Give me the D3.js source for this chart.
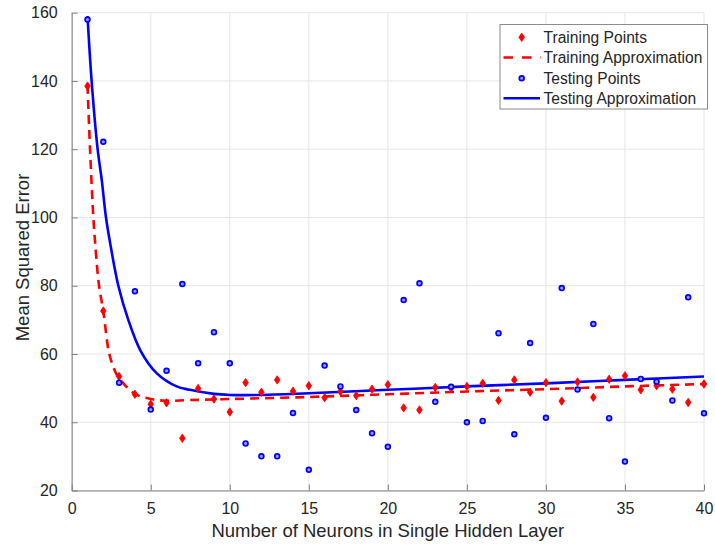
<!DOCTYPE html>
<html>
<head>
<meta charset="utf-8">
<script src="https://cdn.jsdelivr.net/npm/d3@7"></script>
<style>
  body { margin: 0; background: #fff; }
  text { font-family: "Liberation Sans", Arial, sans-serif; fill: #262626; }
</style>
</head>
<body>
<svg id="chart" width="715" height="546"></svg>
<script>
// neurons 1..40
const neurons = d3.range(1, 41)

const trainPoints = [138.5, 72.6, 53.4, 48.2, 45.3, 45.7, 35.3, 49.9, 46.8, 43.0,
  51.6, 48.8, 52.4, 49.1, 50.7, 47.2, 49.0, 47.8, 49.7, 51.0,
  44.2, 43.6, 50.2, 50.0, 50.5, 51.4, 46.4, 52.4, 48.8, 51.6,
  46.2, 51.8, 47.3, 52.6, 53.6, 49.5, 50.7, 49.7, 45.8, 51.2]

const testPoints = [158.0, 122.2, 51.6, 78.4, 43.7, 55.1, 80.5, 57.3, 66.4, 57.3,
  33.8, 30.0, 30.0, 42.7, 26.1, 56.6, 50.5, 43.6, 36.8, 32.8,
  75.8, 80.7, 46.0, 50.4, 40.0, 40.4, 66.1, 36.5, 63.2, 41.3,
  79.3, 49.6, 68.8, 41.2, 28.5, 52.7, 51.9, 46.4, 76.6, 42.6]

// fitted curves
const trainFitX = [1, 1.16, 1.37, 1.5, 1.73, 2, 2.38, 2.8, 3.27, 4, 5, 6, 7.5, 10, 15, 20, 25, 30, 35, 40]
const trainFitY = [138.8, 120, 100, 91.5, 80, 72.6, 60, 54.4, 51.4, 48.3, 46.8, 46.3, 46.5, 46.8, 47.4, 48.2, 49.0, 49.7, 50.5, 51.2]
const testFitX = [1, 1.26, 1.64, 1.9, 2.17, 2.47, 2.95, 3.58, 4.35, 5.37, 6.64, 7.48, 9, 10, 12, 15, 20, 25, 30, 35, 40]
const testFitY = [159, 140, 120, 111, 100, 91.5, 80, 70, 61, 54.4, 50.5, 49.5, 48.3, 48.0, 48.0, 48.5, 49.5, 50.5, 51.4, 52.4, 53.4]

const xTicks = [0, 5, 10, 15, 20, 25, 30, 35, 40]
const yTicks = [20, 40, 60, 80, 100, 120, 140, 160]

const legendLabels = ["Training Points", "Training Approximation", "Testing Points", "Testing Approximation"]

const RED = "#ff0000"
const BLUE = "#0000ff"

const MARGINS = { left: 71.7, right: 704, top: 12.7, bottom: 490.5 }

const svg = d3.select("#chart")

const xScale = d3.scaleLinear().domain([0, 40]).range([MARGINS.left, MARGINS.right])
const yScale = d3.scaleLinear().domain([20, 160]).range([MARGINS.bottom, MARGINS.top])

// grid
const grid = svg.append("g")
grid.selectAll(".gx").data(xTicks).enter().append("line")
  .attr("x1", d => xScale(d)).attr("x2", d => xScale(d))
  .attr("y1", MARGINS.top).attr("y2", MARGINS.bottom)
  .attr("stroke", "#e6e6e6").attr("stroke-width", 1)
grid.selectAll(".gy").data(yTicks).enter().append("line")
  .attr("x1", MARGINS.left).attr("x2", MARGINS.right)
  .attr("y1", d => yScale(d)).attr("y2", d => yScale(d))
  .attr("stroke", "#e6e6e6").attr("stroke-width", 1)

// axes
const xAxis = d3.axisBottom(xScale).tickValues(xTicks).tickSizeInner(-6).tickSizeOuter(0).tickPadding(12)
const yAxis = d3.axisLeft(yScale).tickValues(yTicks).tickSizeInner(-6).tickSizeOuter(0).tickPadding(14)

const gx = svg.append("g")
  .attr("transform", "translate(0," + MARGINS.bottom + ")")
  .call(xAxis)
const gy = svg.append("g")
  .attr("transform", "translate(" + MARGINS.left + ",0)")
  .call(yAxis)

;[gx, gy].forEach(g => {
  g.select(".domain").attr("stroke", "#808080")
  g.selectAll(".tick line").attr("stroke", "#808080")
  g.selectAll(".tick text").attr("font-size", 16)
    .attr("font-family", "Liberation Sans, Arial, sans-serif").attr("fill", "#262626")
})

// axis labels
svg.append("text")
  .attr("x", (MARGINS.left + MARGINS.right) / 2).attr("y", 537)
  .attr("text-anchor", "middle").attr("font-size", 18.5)
  .text("Number of Neurons in Single Hidden Layer")
svg.append("text")
  .attr("transform", "translate(28.5,257.5) rotate(-90)")
  .attr("text-anchor", "middle").attr("font-size", 18.5)
  .text("Mean Squared Error")

// curves
const line = d3.line()
  .x(d => xScale(d[0]))
  .y(d => yScale(d[1]))
  .curve(d3.curveCatmullRom.alpha(0.5))

svg.append("path")
  .attr("d", line(d3.zip(trainFitX, trainFitY)))
  .attr("fill", "none").attr("stroke", RED)
  .attr("stroke-width", 2.6).attr("stroke-dasharray", "9,6")

svg.append("path")
  .attr("d", line(d3.zip(testFitX, testFitY)))
  .attr("fill", "none").attr("stroke", BLUE)
  .attr("stroke-width", 2.6)

// markers
const diamond = "M0,-4.2L2.8,0L0,4.2L-2.8,0Z"

svg.append("g").selectAll("path")
  .data(d3.zip(neurons, trainPoints)).enter().append("path")
  .attr("transform", d => "translate(" + xScale(d[0]) + "," + yScale(d[1]) + ")")
  .attr("d", diamond)
  .attr("fill", RED).attr("stroke", RED).attr("stroke-width", 0.8)

svg.append("g").selectAll("circle")
  .data(d3.zip(neurons, testPoints)).enter().append("circle")
  .attr("cx", d => xScale(d[0])).attr("cy", d => yScale(d[1]))
  .attr("r", 2.4)
  .attr("fill", "#9999ff").attr("stroke", BLUE).attr("stroke-width", 1.7)

// legend
const legend = svg.append("g")
legend.append("rect")
  .attr("x", 500).attr("y", 24.5).attr("width", 207.5).attr("height", 84.5)
  .attr("fill", "#fff").attr("stroke", "#8c8c8c").attr("stroke-width", 1)

const rowY = [37.3, 57.5, 78.3, 98.3]
legendLabels.forEach((label, i) => {
  const y = rowY[i]
  legend.append("text")
    .attr("x", 543.5).attr("y", y + 5.6)
    .attr("font-size", 15.6)
    .text(label)
})
legend.append("path")
  .attr("transform", "translate(521.7," + rowY[0] + ")")
  .attr("d", diamond).attr("fill", RED).attr("stroke", RED).attr("stroke-width", 0.8)
legend.append("line")
  .attr("x1", 503.5).attr("x2", 541).attr("y1", rowY[1]).attr("y2", rowY[1])
  .attr("stroke", RED).attr("stroke-width", 2.6).attr("stroke-dasharray", "9.5,9")
legend.append("circle")
  .attr("cx", 521.7).attr("cy", rowY[2]).attr("r", 2.4)
  .attr("fill", "#9999ff").attr("stroke", BLUE).attr("stroke-width", 1.7)
legend.append("line")
  .attr("x1", 503.5).attr("x2", 540).attr("y1", rowY[3]).attr("y2", rowY[3])
  .attr("stroke", BLUE).attr("stroke-width", 2.6)
</script>
</body>
</html>
